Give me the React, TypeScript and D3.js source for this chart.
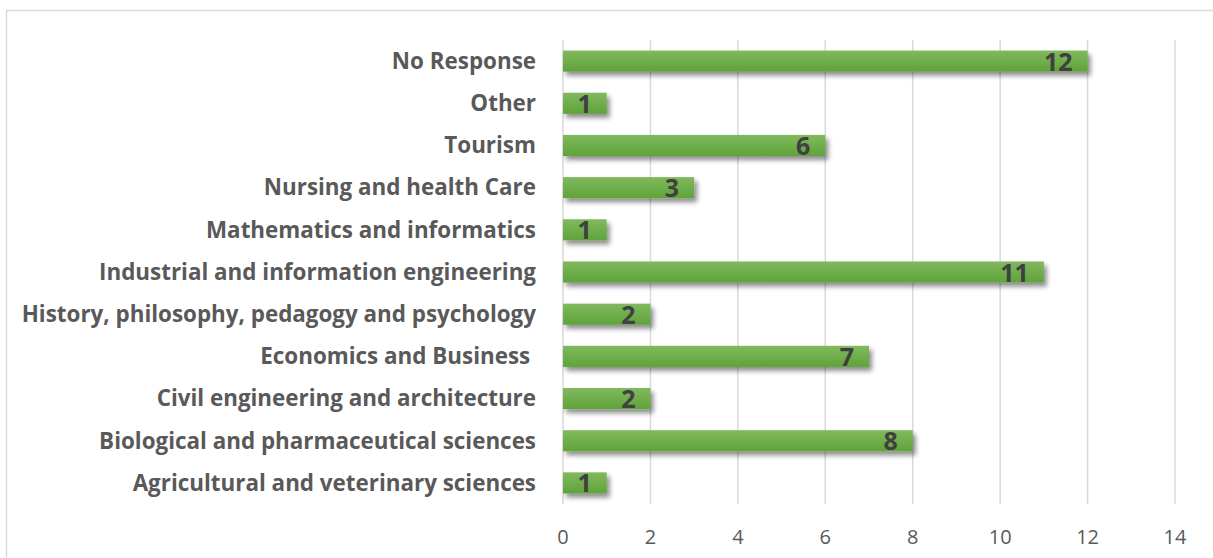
import React from "react";
import * as d3 from "d3";

const categories = [
  "No Response",
  "Other",
  "Tourism",
  "Nursing and health Care",
  "Mathematics and informatics",
  "Industrial and information engineering",
  "History, philosophy, pedagogy and psychology",
  "Economics and Business ",
  "Civil engineering and architecture",
  "Biological and pharmaceutical sciences",
  "Agricultural and veterinary sciences",
];
const values = [12, 1, 6, 3, 1, 11, 2, 7, 2, 8, 1];
const ticks = [0, 2, 4, 6, 8, 10, 12, 14];

const W = 1213;
const H = 558;
const FONT = "'Open Sans', sans-serif";

export default function App() {
  const x = d3.scaleLinear().domain([0, 14]).range([563, 1175]);
  const y = d3.scaleBand().domain(categories).range([40, 504]).paddingInner(0.5).paddingOuter(0.25);
  return (
    <svg width={W} height={H} style={{ position: "absolute", left: 0, top: 0 }}>
      <defs>
        <linearGradient id="g" x1="0" y1="0" x2="0" y2="1">
          <stop offset="0" stopColor="#81b95e" />
          <stop offset="1" stopColor="#5fa33a" />
        </linearGradient>
        <filter id="sh" x="-10%" y="-50%" width="130%" height="250%">
          <feGaussianBlur in="SourceAlpha" stdDeviation="2.5" />
          <feOffset dx="3" dy="4" result="b" />
          <feComponentTransfer>
            <feFuncA type="linear" slope="0.45" />
          </feComponentTransfer>
          <feMerge>
            <feMergeNode />
            <feMergeNode in="SourceGraphic" />
          </feMerge>
        </filter>
      </defs>
      <rect x={0} y={0} width={W} height={H} fill="#fff" />
      <rect x={6.5} y={10.5} width={W + 20} height={H + 20} fill="none" stroke="#d9d9d9" strokeWidth={1.5} />
      {ticks.map((t) => (
        <g key={t}>
          <line x1={x(t)} x2={x(t)} y1={40} y2={504} stroke="#d9d9d9" strokeWidth={1.5} />
          <text x={x(t)} y={544} textAnchor="middle" fontFamily={FONT} fontSize={20} fill="#595959">
            {t}
          </text>
        </g>
      ))}
      {categories.map((c, i) => {
        const yy = y(c)!;
        const bw = y.bandwidth();
        return (
          <g key={c}>
            <rect x={x(0)} y={yy} width={x(values[i]) - x(0)} height={bw} fill="url(#g)" filter="url(#sh)" />
            <text x={536} y={yy + bw / 2} dy="0.35em" textAnchor="end" fontFamily={FONT} fontWeight="bold" fontSize={22.4} fill="#595959" style={{ whiteSpace: "pre" }}>
              {c}
            </text>
            <text x={x(values[i]) - 15} y={yy + bw / 2} dy="0.38em" textAnchor="end" fontFamily={FONT} fontWeight="bold" fontSize={25} fill="#404040">
              {values[i]}
            </text>
          </g>
        );
      })}
    </svg>
  );
}
